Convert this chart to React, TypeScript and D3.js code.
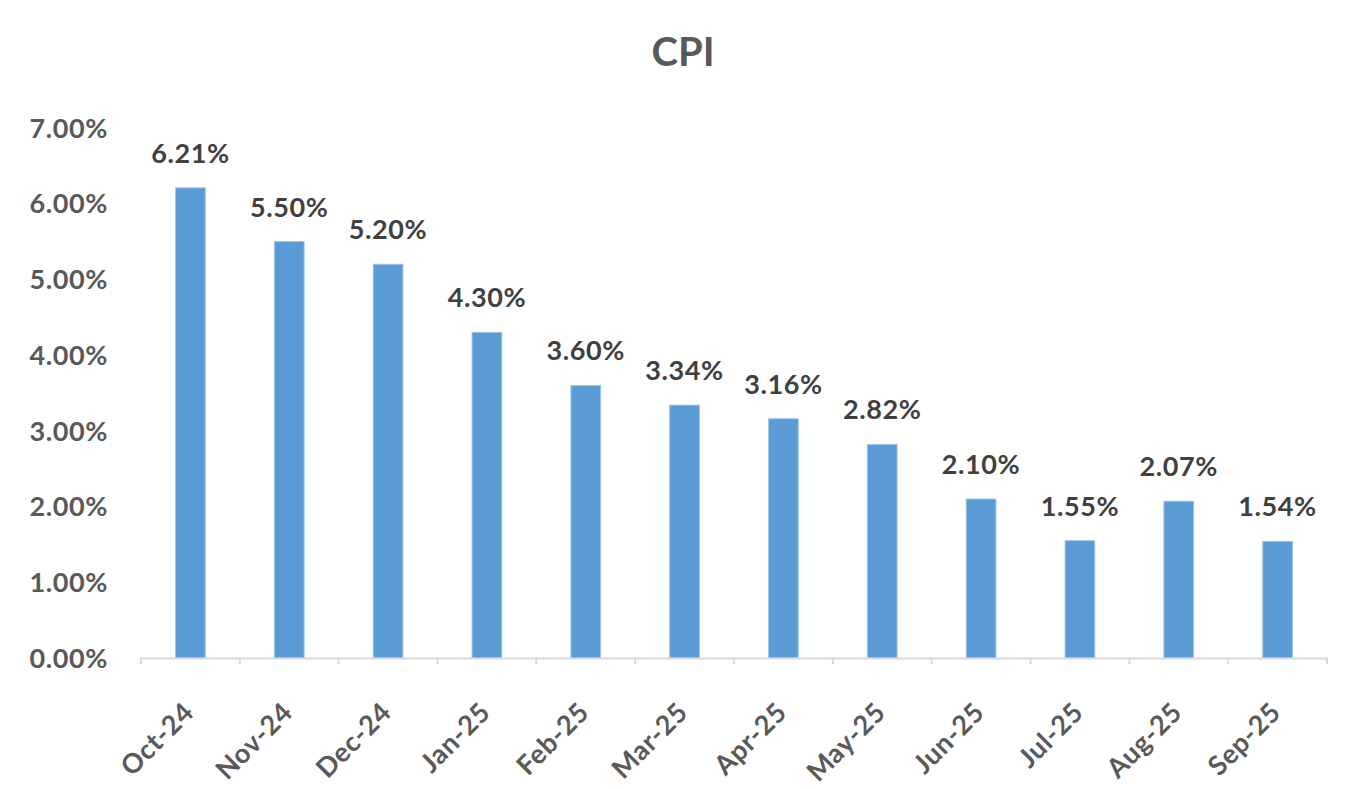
import React from "react";
import * as d3 from "d3";

const categories = ["Oct-24","Nov-24","Dec-24","Jan-25","Feb-25","Mar-25","Apr-25","May-25","Jun-25","Jul-25","Aug-25","Sep-25"];
const values = [6.21, 5.5, 5.2, 4.3, 3.6, 3.34, 3.16, 2.82, 2.1, 1.55, 2.07, 1.54];
const yTicks = [0, 1, 2, 3, 4, 5, 6, 7];
const title = "CPI";

const W = 1359, H = 789;
const FONT = "Lato, 'Open Sans', sans-serif";

export default function App() {
  const x = d3.scaleBand<string>().domain(categories).range([141, 1327]).paddingInner(0.7).paddingOuter(0.35);
  const y = d3.scaleLinear().domain([0, 7]).range([658, 128]);
  const step = x.step();
  const bounds = d3.range(categories.length + 1).map(i => 141 + i * step);
  return (
    <svg width={W} height={H} style={{ position: "absolute", left: 0, top: 0, background: "#fff" }} fontFamily={FONT}>
      <rect x={0} y={0} width={W} height={H} fill="#fff" />
      <text x={683} y={66} textAnchor="middle" fontSize={40} fontWeight={700} fill="#595959">{title}</text>
      {yTicks.map(t => (
        <text key={t} x={108} y={y(t)} dy="0.36em" textAnchor="end" fontSize={27} letterSpacing={0.6} fontWeight={700} fill="#595959">
          {t.toFixed(2) + "%"}
        </text>
      ))}
      {categories.map((c, i) => (
        <rect key={c} x={x(c)} y={y(values[i])} width={x.bandwidth()} height={y(0) - y(values[i])} fill="#5B9BD5" stroke="#9DC3E6" strokeWidth={1} />
      ))}
      <line x1={141} x2={1327} y1={658.5} y2={658.5} stroke="#D9D9D9" strokeWidth={2} />
      {bounds.map((b, i) => (
        <line key={i} x1={b} x2={b} y1={658} y2={664} stroke="#D9D9D9" strokeWidth={2} />
      ))}
      {categories.map((c, i) => (
        <text key={c} x={(x(c) as number) + x.bandwidth() / 2} y={y(values[i]) - 25} textAnchor="middle" fontSize={27} letterSpacing={0.6} fontWeight={700} fill="#404040">
          {values[i].toFixed(2) + "%"}
        </text>
      ))}
      {categories.map(c => {
        const cx = (x(c) as number) + x.bandwidth() / 2 + 5;
        const cy = 714;
        return (
          <text key={c} x={cx} y={cy} transform={`rotate(-45 ${cx} ${cy})`} textAnchor="end" fontSize={27} letterSpacing={0.6} fontWeight={700} fill="#595959">
            {c}
          </text>
        );
      })}
    </svg>
  );
}
